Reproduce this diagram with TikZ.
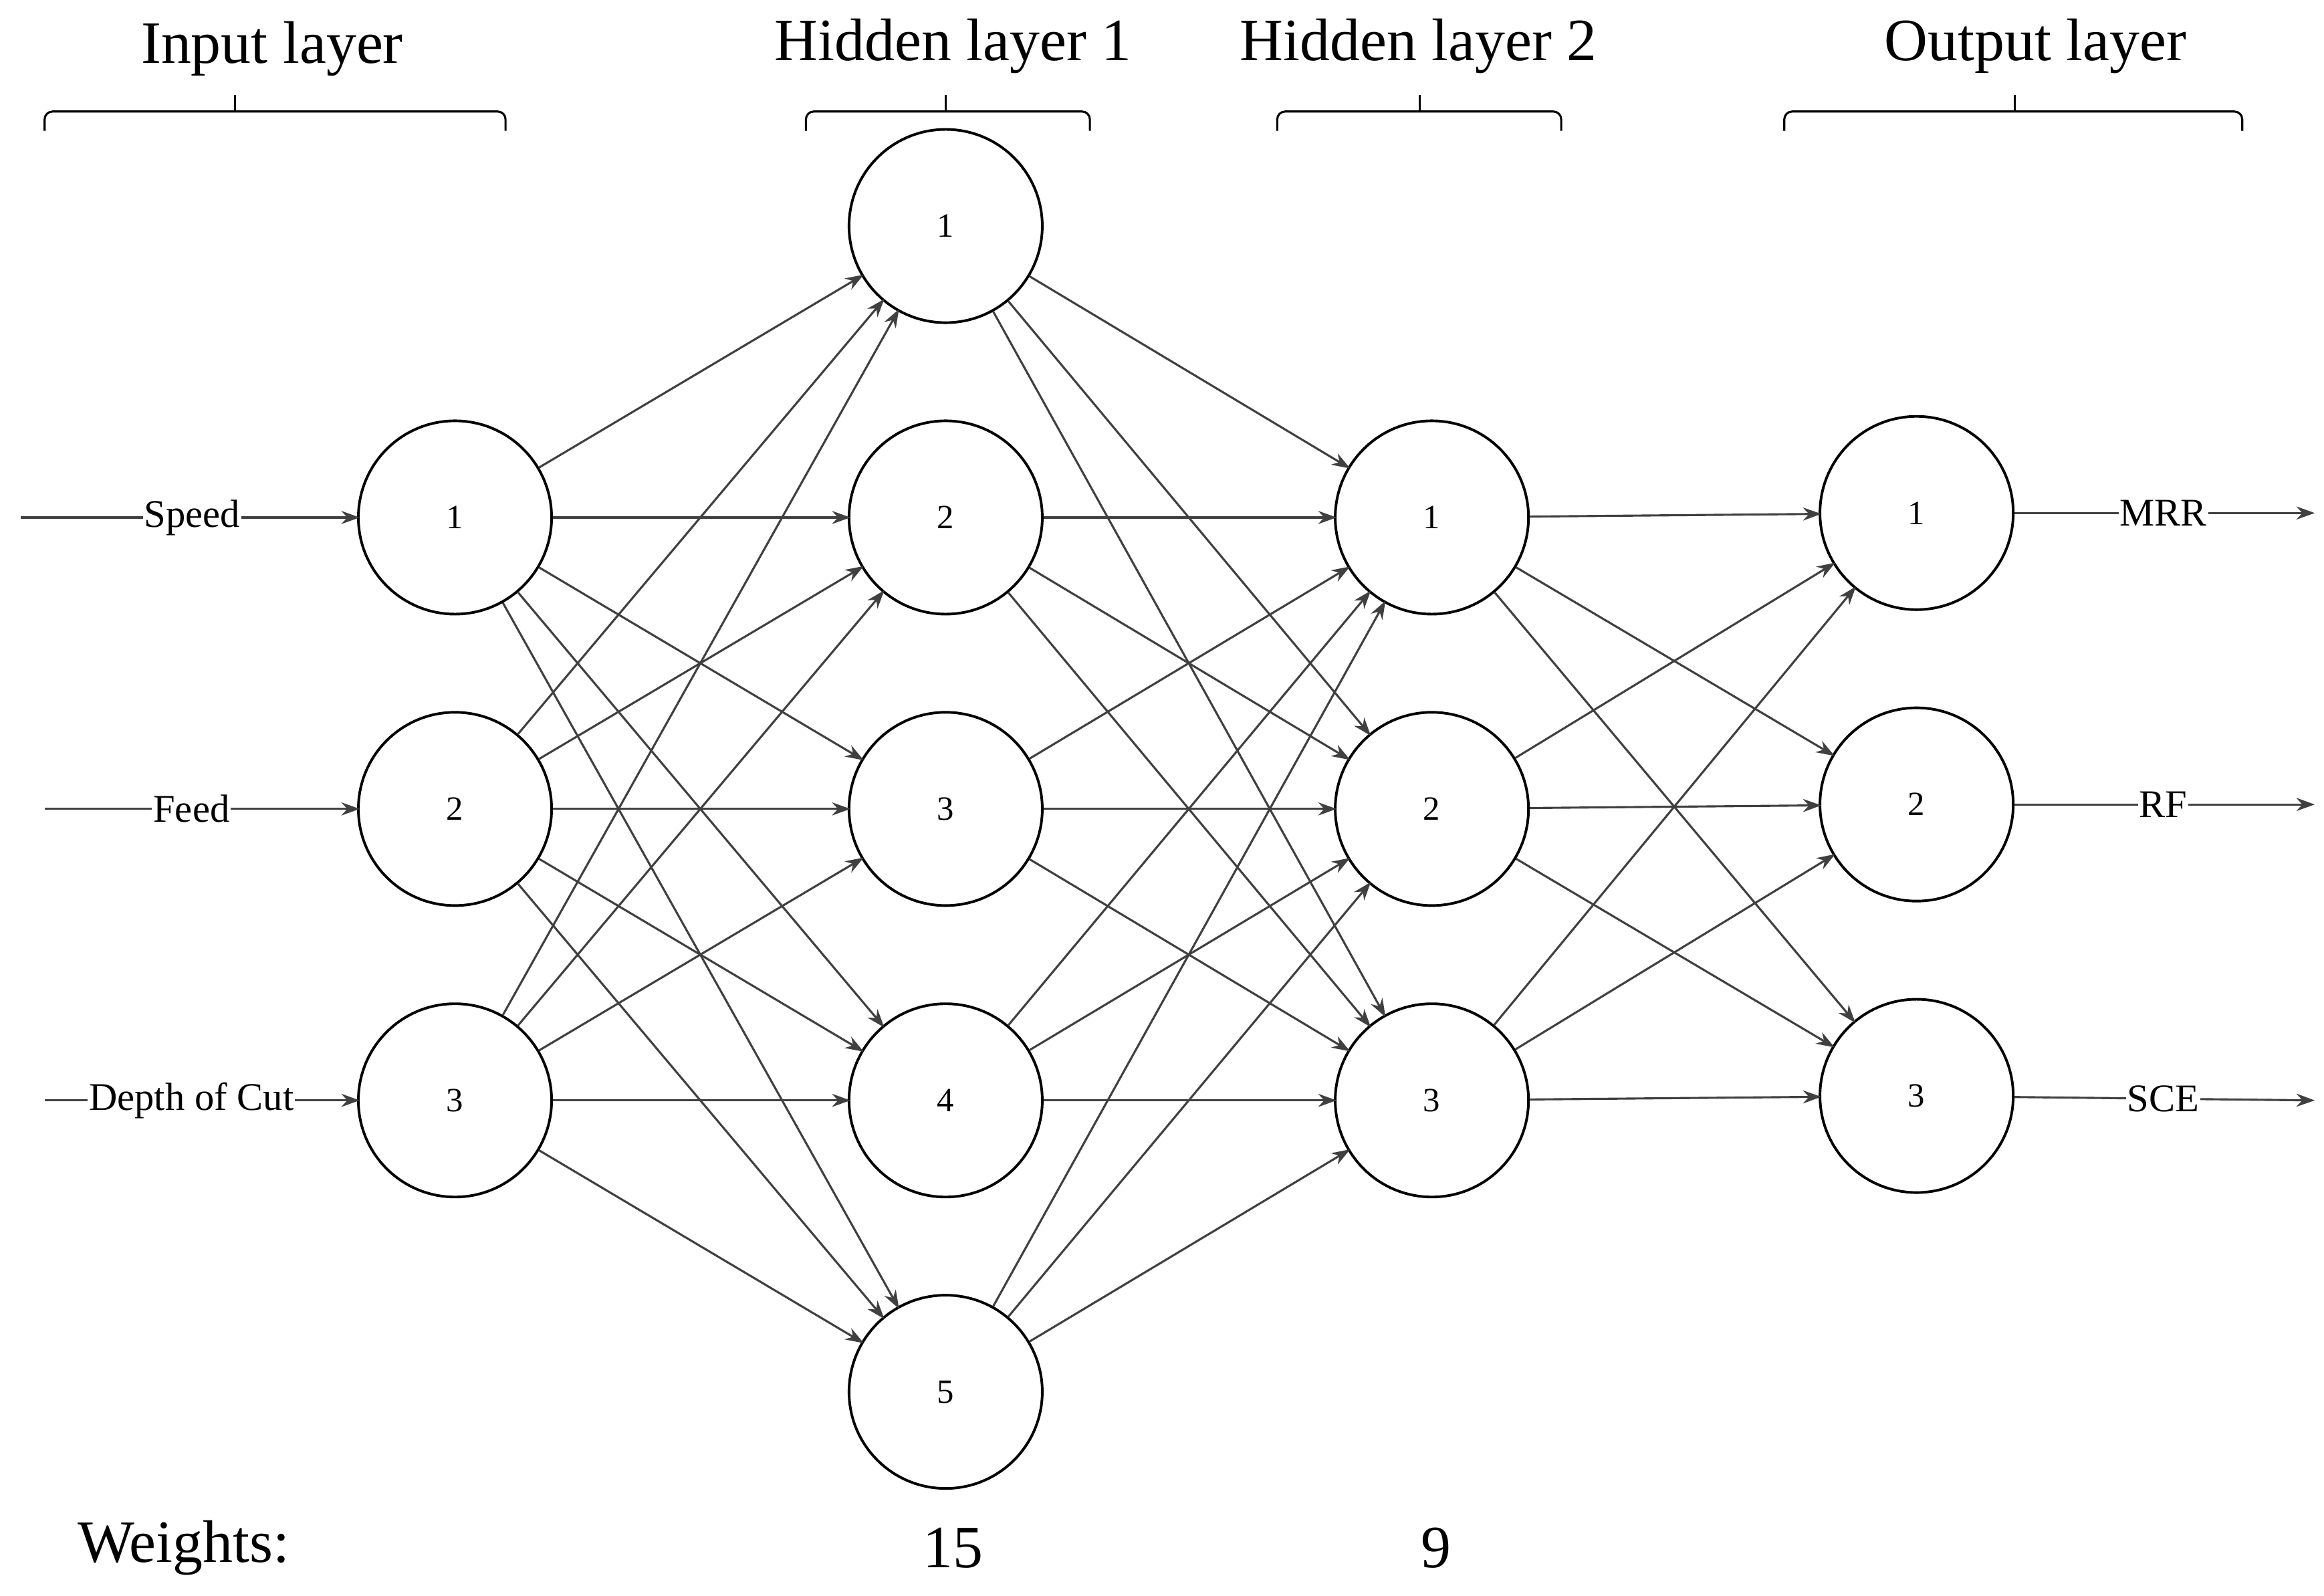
\documentclass[tikz,border=0pt]{standalone}
\usepackage{fontspec}
\setmainfont{Liberation Serif}
\usetikzlibrary{arrows.meta}
\begin{document}
\begin{tikzpicture}[x=0.02cm,y=-0.02cm,
  neu/.style={circle,draw=black,line width=1pt,minimum size=2.6cm,inner sep=0pt,font=\fontsize{13}{15}\selectfont},
  con/.style={draw=black!75,line width=0.8pt,-{Stealth[length=7pt,width=5pt]},shorten >=-1pt},
  lab/.style={fill=white,inner sep=0.5pt,font=\fontsize{15}{17}\selectfont},
  ttl/.style={font=\fontsize{23}{26}\selectfont},
  brc/.style={draw=black,line width=0.8pt,rounded corners=3pt}]
\useasboundingbox (0,0) rectangle (1563,1073);
% nodes
\foreach \i/\y in {1/348,2/544,3/740} \node[neu] (i\i) at (306,\y) {\i};
\foreach \i/\y in {1/152,2/348,3/544,4/740,5/936} \node[neu] (h\i) at (636,\y) {\i};
\foreach \i/\y in {1/348,2/544,3/740} \node[neu] (g\i) at (963,\y) {\i};
\foreach \i/\y in {1/345,2/541,3/737} \node[neu] (o\i) at (1289,\y) {\i};
% connections
\foreach \a in {1,2,3} \foreach \b in {1,...,5} \draw[con] (i\a) -- (h\b);
\foreach \a in {1,...,5} \foreach \b in {1,2,3} \draw[con] (h\a) -- (g\b);
\foreach \a in {1,2,3} \foreach \b in {1,2,3} \draw[con] (g\a) -- (o\b);
% inputs
\coordinate (s0) at (14,348); \coordinate (f0) at (30,544); \coordinate (d0) at (30,740);
\draw[con] (s0) -- (i1) node[lab,pos=0.51] {Speed};
\draw[con] (f0) -- (i2) node[lab,pos=0.47] {Feed};
\draw[con] (d0) -- (i3) node[lab,pos=0.47] {Depth of Cut};
% outputs
\coordinate (m1) at (1555,345); \coordinate (m2) at (1555,541); \coordinate (m3) at (1555,740);
\draw[con] (o1) -- (m1) node[lab,pos=0.5] {MRR};
\draw[con] (o2) -- (m2) node[lab,pos=0.5] {RF};
\draw[con] (o3) -- (m3) node[lab,pos=0.5] {SCE};
% titles and braces
\node[ttl] (t1) at (183,33) {Input layer};
\node[ttl] (t2) at (641,31) {Hidden layer 1};
\node[ttl] (t3) at (954,31) {Hidden layer 2};
\node[ttl] (t4) at (1369,31) {Output layer};
\foreach \l/\c/\r in {30/158/340, 542/636/733, 859/955/1050, 1200/1355/1508}{
  \draw[brc] (\l,88) -- (\l,75) -- (\r,75) -- (\r,88);
  \draw[line width=0.8pt] (\c,75) -- (\c,64);
}
\node[ttl,anchor=west] (w) at (46,1041) {Weights:};
\node[ttl] (w1) at (641,1041) {15};
\node[ttl] (w2) at (966,1041) {9};
\end{tikzpicture}
\end{document}
